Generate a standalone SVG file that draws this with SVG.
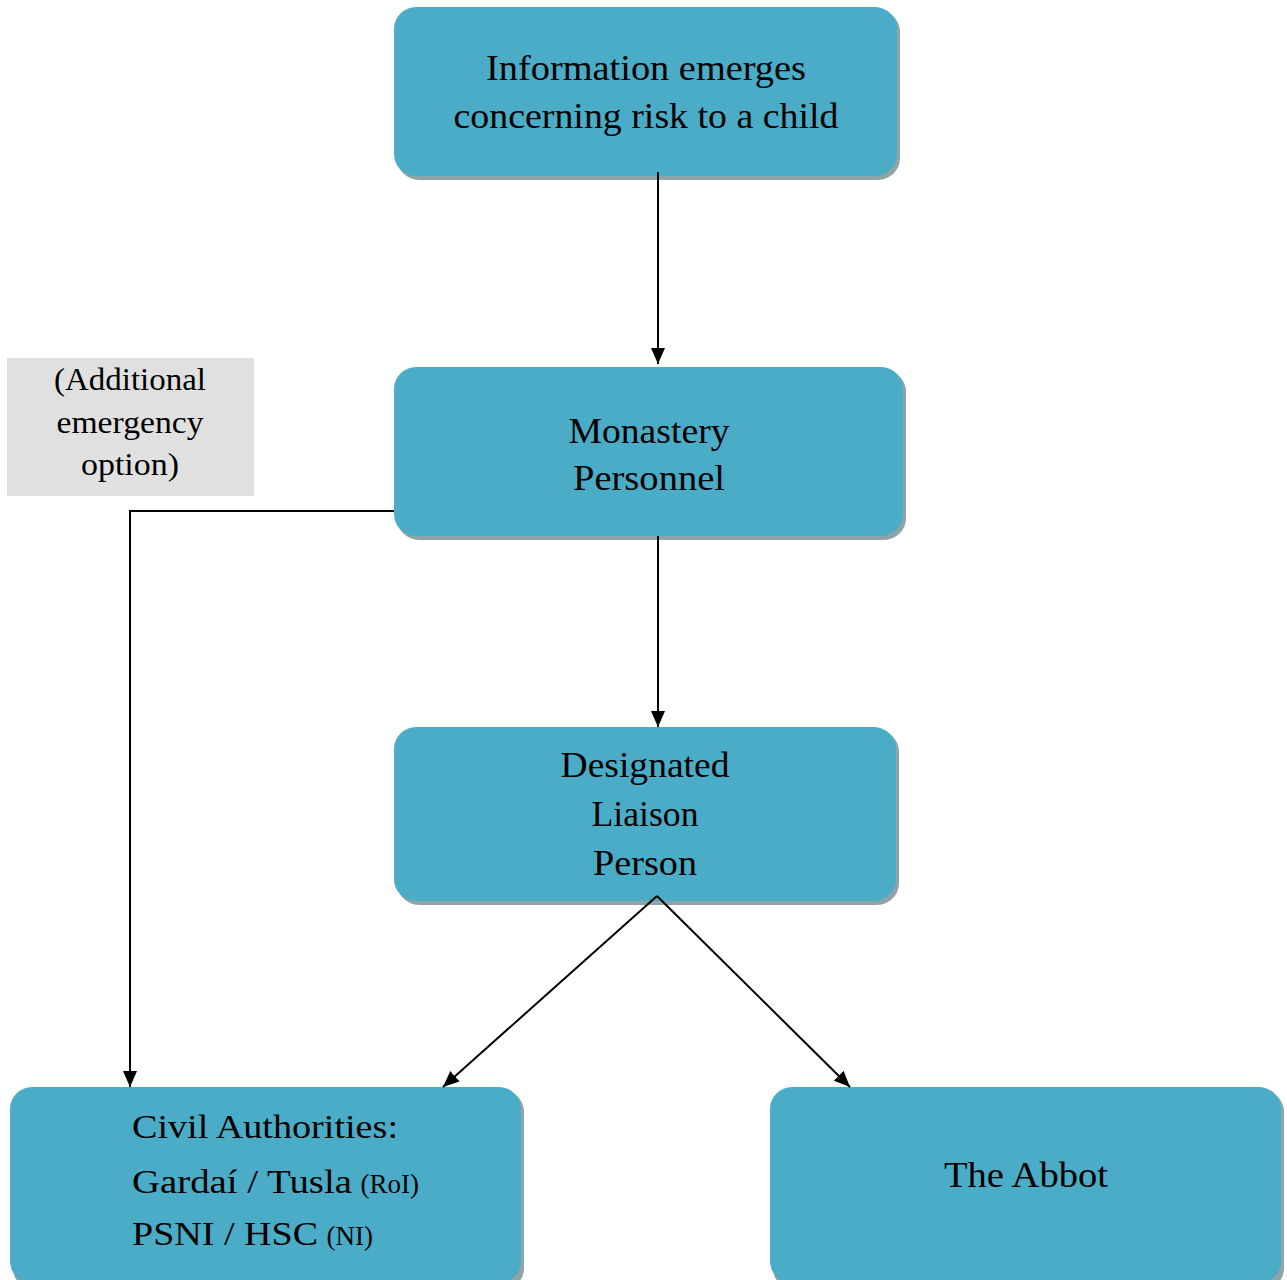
<svg xmlns="http://www.w3.org/2000/svg" width="1287" height="1280" viewBox="0 0 1287 1280">
<style>
.box{fill:#4aacc6}
.sh{fill:#8fa3a8}
text{font-family:"Liberation Serif","Times New Roman",serif;fill:#000}
.t{font-size:35px;text-anchor:middle}
.g{font-size:31px;text-anchor:middle}
.c{font-size:34px}
.s{font-size:27px}
.ln{fill:none;stroke:#000;stroke-width:2}
</style>
<defs>
<marker id="ah" viewBox="0 0 16 14" refX="16" refY="7" markerWidth="16" markerHeight="14" markerUnits="userSpaceOnUse" orient="auto">
<path d="M0,0 L16,7 L0,14 z" fill="#000"/>
</marker>
</defs>
<rect width="1287" height="1280" fill="#fff"/>
<g id="note">
<rect x="7" y="358" width="247" height="138" fill="#e0e0e0"/>
<text class="g" x="130" y="390" textLength="152" lengthAdjust="spacingAndGlyphs">(Additional</text>
<text class="g" x="130" y="433" textLength="147" lengthAdjust="spacingAndGlyphs">emergency</text>
<text class="g" x="130" y="475" textLength="98" lengthAdjust="spacingAndGlyphs">option)</text>
</g>
<g id="n1">
<rect class="sh" x="397" y="10" width="503" height="170" rx="22"/>
<rect class="box" x="394" y="7" width="503" height="169" rx="22"/>
<text class="t" x="646" y="80" textLength="320" lengthAdjust="spacingAndGlyphs">Information emerges</text>
<text class="t" x="646" y="128" textLength="385" lengthAdjust="spacingAndGlyphs">concerning risk to a child</text>
</g>
<g id="n2">
<rect class="sh" x="397" y="370" width="509" height="170" rx="22"/>
<rect class="box" x="394" y="367" width="509" height="169" rx="22"/>
<text class="t" x="649" y="443" textLength="161" lengthAdjust="spacingAndGlyphs">Monastery</text>
<text class="t" x="649" y="490" textLength="152" lengthAdjust="spacingAndGlyphs">Personnel</text>
</g>
<g id="n3">
<rect class="sh" x="397" y="730" width="502" height="175" rx="22"/>
<rect class="box" x="394" y="727" width="502" height="174" rx="22"/>
<text class="t" x="645" y="777" textLength="169" lengthAdjust="spacingAndGlyphs">Designated</text>
<text class="t" x="645" y="826" textLength="107" lengthAdjust="spacingAndGlyphs">Liaison</text>
<text class="t" x="645" y="875" textLength="104" lengthAdjust="spacingAndGlyphs">Person</text>
</g>
<g id="n4">
<rect class="sh" x="13" y="1090" width="511" height="200" rx="22"/>
<rect class="box" x="10" y="1087" width="511" height="196" rx="22"/>
<text class="c" x="132" y="1138" textLength="266" lengthAdjust="spacingAndGlyphs">Civil Authorities:</text>
<text class="c" x="132" y="1193"><tspan textLength="220" lengthAdjust="spacingAndGlyphs">Gardaí / Tusla</tspan> <tspan class="s">(RoI)</tspan></text>
<text class="c" x="132" y="1245"><tspan textLength="186" lengthAdjust="spacingAndGlyphs">PSNI / HSC</tspan> <tspan class="s">(NI)</tspan></text>
</g>
<g id="n5">
<rect class="sh" x="773" y="1090" width="511" height="200" rx="22"/>
<rect class="box" x="770" y="1087" width="511" height="196" rx="22"/>
<text class="t" x="1026" y="1187" textLength="164" lengthAdjust="spacingAndGlyphs">The Abbot</text>
</g>
<g id="connectors">
<line class="ln" x1="658" y1="172" x2="658" y2="364" marker-end="url(#ah)"/>
<line class="ln" x1="658" y1="536" x2="658" y2="727" marker-end="url(#ah)"/>
<polyline class="ln" points="394,511 130,511 130,1087" marker-end="url(#ah)"/>
<line class="ln" x1="657" y1="896" x2="443" y2="1087" marker-end="url(#ah)"/>
<line class="ln" x1="657" y1="896" x2="850" y2="1087" marker-end="url(#ah)"/>
</g>
</svg>
